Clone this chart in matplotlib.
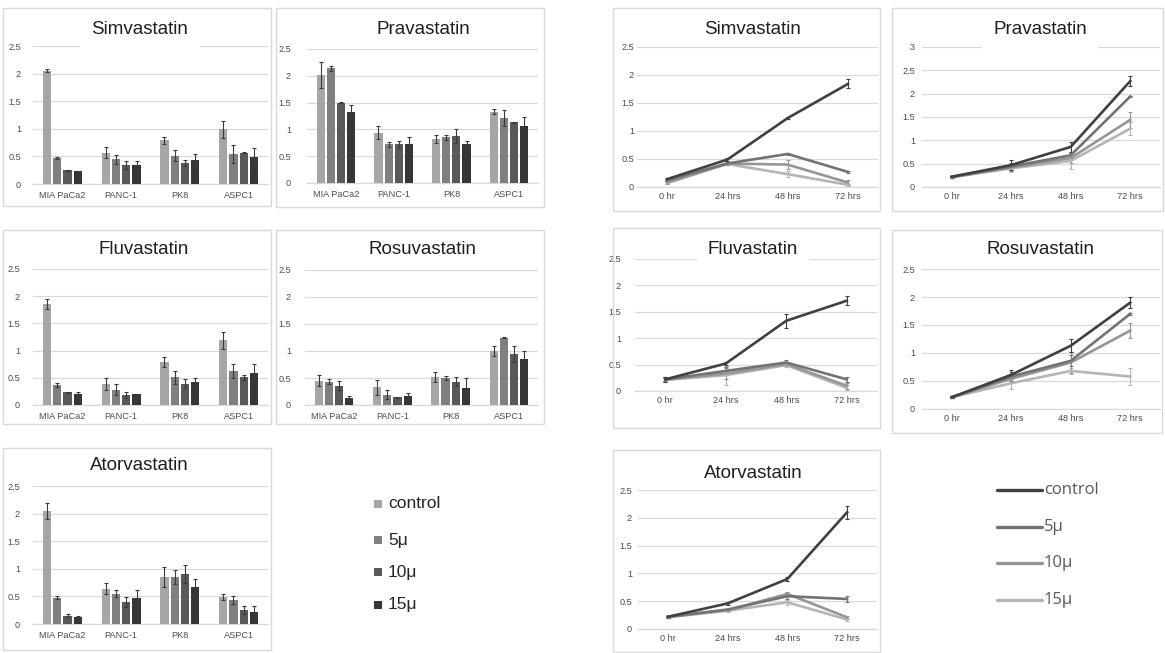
import matplotlib
matplotlib.use("Agg")
import matplotlib.pyplot as plt
from matplotlib import font_manager
from matplotlib.patches import Rectangle
from matplotlib.lines import Line2D
import numpy as np

# ---------------------------------------------------------------- data
cell_lines = ["MIA PaCa2", "PANC-1", "PK8", "ASPC1"]
timepoints = ["0 hr", "24 hrs", "48 hrs", "72 hrs"]
doses = ["control", "5μ", "10μ", "15μ"]
drugs = ["Simvastatin", "Pravastatin", "Fluvastatin", "Rosuvastatin", "Atorvastatin"]

# Bar charts: one row per dose, one column per cell line
simva_bar = [[2.05, 0.57, 0.79, 0.99], [0.47, 0.45, 0.51, 0.54],
             [0.25, 0.34, 0.38, 0.57], [0.23, 0.34, 0.43, 0.49]]
simva_bar_err = [[0.03, 0.10, 0.07, 0.15], [0.02, 0.08, 0.10, 0.16],
                 [0.01, 0.07, 0.05, 0.01], [0.01, 0.08, 0.12, 0.16]]
prava_bar = [[2.01, 0.94, 0.82, 1.33], [2.14, 0.72, 0.85, 1.22],
             [1.50, 0.72, 0.88, 1.13], [1.33, 0.73, 0.73, 1.07]]
prava_bar_err = [[0.24, 0.12, 0.08, 0.05], [0.05, 0.05, 0.05, 0.15],
                 [0.01, 0.07, 0.13, 0.01], [0.12, 0.12, 0.05, 0.17]]
fluva_bar = [[1.86, 0.38, 0.79, 1.19], [0.37, 0.28, 0.51, 0.62],
             [0.23, 0.18, 0.39, 0.51], [0.21, 0.20, 0.43, 0.58]]
fluva_bar_err = [[0.09, 0.11, 0.10, 0.16], [0.03, 0.10, 0.12, 0.13],
                 [0.01, 0.05, 0.08, 0.05], [0.02, 0.01, 0.06, 0.17]]
rosuva_bar = [[0.45, 0.33, 0.52, 1.00], [0.43, 0.19, 0.50, 1.25],
              [0.36, 0.14, 0.43, 0.95], [0.13, 0.16, 0.31, 0.86]]
rosuva_bar_err = [[0.10, 0.14, 0.10, 0.09], [0.05, 0.08, 0.04, 0.01],
                  [0.08, 0.01, 0.08, 0.15], [0.04, 0.06, 0.19, 0.14]]
atorva_bar = [[2.05, 0.64, 0.85, 0.49], [0.48, 0.55, 0.85, 0.43],
              [0.15, 0.40, 0.91, 0.26], [0.12, 0.48, 0.67, 0.21]]
atorva_bar_err = [[0.15, 0.10, 0.18, 0.06], [0.03, 0.06, 0.12, 0.07],
                  [0.03, 0.09, 0.16, 0.07], [0.02, 0.13, 0.15, 0.11]]

# Time courses: one row per dose, one column per time point
simva_line = [[0.14, 0.49, 1.23, 1.84], [0.12, 0.42, 0.59, 0.27],
              [0.08, 0.42, 0.40, 0.08], [0.07, 0.41, 0.23, 0.04]]
simva_line_err = [[0.02, 0.02, 0.02, 0.08], [0.02, 0.02, 0.02, 0.02],
                  [0.02, 0.02, 0.08, 0.05], [0.02, 0.02, 0.05, 0.02]]
prava_line = [[0.22, 0.47, 0.86, 2.27], [0.22, 0.44, 0.68, 1.94],
              [0.21, 0.42, 0.62, 1.44], [0.21, 0.40, 0.56, 1.25]]
prava_line_err = [[0.02, 0.10, 0.11, 0.10], [0.02, 0.08, 0.05, 0.02],
                  [0.02, 0.08, 0.10, 0.17], [0.02, 0.08, 0.17, 0.14]]
fluva_line = [[0.22, 0.52, 1.33, 1.71], [0.22, 0.38, 0.54, 0.22],
              [0.22, 0.33, 0.51, 0.10], [0.21, 0.30, 0.49, 0.06]]
fluva_line_err = [[0.05, 0.03, 0.13, 0.08], [0.05, 0.08, 0.04, 0.05],
                  [0.03, 0.10, 0.03, 0.06], [0.03, 0.18, 0.03, 0.05]]
rosuva_line = [[0.21, 0.61, 1.13, 1.90], [0.21, 0.58, 0.86, 1.70],
               [0.21, 0.54, 0.83, 1.40], [0.21, 0.46, 0.68, 0.58]]
rosuva_line_err = [[0.02, 0.08, 0.12, 0.10], [0.02, 0.08, 0.10, 0.02],
                   [0.02, 0.08, 0.18, 0.13], [0.02, 0.10, 0.06, 0.15]]
atorva_line = [[0.22, 0.46, 0.90, 2.10], [0.22, 0.35, 0.59, 0.54],
               [0.22, 0.34, 0.63, 0.21], [0.21, 0.33, 0.48, 0.17]]
atorva_line_err = [[0.02, 0.02, 0.03, 0.12], [0.02, 0.02, 0.05, 0.05],
                   [0.02, 0.02, 0.04, 0.03], [0.02, 0.02, 0.04, 0.03]]

bar_sets = [(simva_bar, simva_bar_err), (prava_bar, prava_bar_err),
            (fluva_bar, fluva_bar_err), (rosuva_bar, rosuva_bar_err),
            (atorva_bar, atorva_bar_err)]
line_sets = [(simva_line, simva_line_err), (prava_line, prava_line_err),
             (fluva_line, fluva_line_err), (rosuva_line, rosuva_line_err),
             (atorva_line, atorva_line_err)]

# ---------------------------------------------------------------- style
W, H, DPI = 1165, 653, 100
bar_colors = ["#a6a6a6", "#7f7f7f", "#595959", "#363636"]
line_colors = ["#404040", "#737373", "#969696", "#b5b5b5"]
grid_color = "#d9d9d9"
tick_color = "#4d4d4d"


def pick_font(*names):
    for n in names:
        try:
            font_manager.findfont(font_manager.FontProperties(family=n),
                                  fallback_to_default=False)
            return n
        except ValueError:
            continue
    return "DejaVu Sans"


narrow = pick_font("Liberation Sans Narrow")
tick_font = narrow if narrow != "DejaVu Sans" else "Liberation Sans"
tick_size = 7.6 if narrow != "DejaVu Sans" else 6.6
title_font = "Liberation Sans"
legend_font = "Open Sans"

# panel geometry in pixels (x0, y0, x1, y1), origin at top-left
bar_frames = [(3, 8, 271, 206), (276, 8, 544, 207), (3, 230, 271, 424),
              (276, 230, 544, 424), (3, 448, 271, 650)]
bar_plots = [(33, 46, 268, 184), (307, 49, 538, 183), (33, 269, 268, 405),
             (305, 270, 538, 405), (33, 486, 268, 624)]
bar_titles = [(140, 30), (423, 30), (144, 250), (423, 249), (139, 466)]
bar_mask = [True, False, False, False, False]
bar_ypad = [12, 16, 13, 14, 13]

line_frames = [(613, 8, 880, 211), (892, 8, 1163, 211), (613, 228, 880, 428),
               (892, 230, 1162, 433), (613, 450, 880, 652)]
line_plots = [(637, 47, 878, 187), (922, 47, 1160, 187), (635, 259, 877, 391),
              (922, 269, 1160, 409), (638, 490, 877, 629)]
line_titles = [(753, 30), (1040, 30), (753, 250), (1040, 249), (753, 474)]
line_mask = [False, True, True, False, False]
line_ypad = [3, 7, 14, 7, 6]
line_ymax = [2.5, 3.0, 2.5, 2.5, 2.5]

fig = plt.figure(figsize=(W / DPI, H / DPI), dpi=DPI)
fig.patch.set_facecolor("white")

PX = 72 / DPI  # points per pixel


def fig_rect(box):
    x0, y0, x1, y1 = box
    return [x0 / W, 1 - y1 / H, (x1 - x0) / W, (y1 - y0) / H]


def add_frame(box):
    l, b, w, h = fig_rect(box)
    fig.patches.append(Rectangle((l, b), w, h, transform=fig.transFigure,
                                 facecolor="none", edgecolor=grid_color,
                                 lw=1.0, zorder=5))


def add_title(xy, text, mask):
    kw = {}
    if mask:
        kw["bbox"] = dict(facecolor="white", edgecolor="none",
                          boxstyle="square,pad=0.6")
    fig.text(xy[0] / W, 1 - xy[1] / H, text, ha="center", va="center",
             fontsize=13.5, family=title_font, color="#1f1f1f", **kw)


def style_axes(ax, ymax, ypad, xpad):
    ax.set_facecolor("none")
    ax.set_xlim(-0.5, 3.5)
    ax.set_ylim(0, ymax)
    ticks = np.arange(0, ymax + 0.01, 0.5)
    ax.set_yticks(ticks)
    ax.set_yticklabels([f"{t:g}" for t in ticks])
    ax.yaxis.grid(True, color=grid_color, lw=0.9)
    ax.set_axisbelow(True)
    for side in ("top", "right", "left"):
        ax.spines[side].set_visible(False)
    ax.spines["bottom"].set_color(grid_color)
    ax.spines["bottom"].set_linewidth(0.9)
    ax.tick_params(axis="both", length=0, labelsize=tick_size,
                   labelcolor=tick_color)
    ax.tick_params(axis="y", pad=ypad * PX)
    ax.tick_params(axis="x", pad=xpad * PX)
    for lab in ax.get_xticklabels() + ax.get_yticklabels():
        lab.set_family(tick_font)


# ---------------------------------------------------------------- bar charts
x = np.arange(len(cell_lines))
step, width = 0.175, 0.14
for k, drug in enumerate(drugs):
    add_frame(bar_frames[k])
    ax = fig.add_axes(fig_rect(bar_plots[k]))
    vals, errs = bar_sets[k]
    for i, dose in enumerate(doses):
        ax.bar(x + (i - 1.5) * step, vals[i], width, color=bar_colors[i],
               yerr=errs[i], zorder=3,
               error_kw=dict(ecolor="#3a3a3a", elinewidth=0.8,
                             capsize=1.6, capthick=0.8))
    ax.set_xticks(x)
    ax.set_xticklabels(cell_lines)
    style_axes(ax, 2.5, bar_ypad[k], 7)
    add_title(bar_titles[k], drug, bar_mask[k])

# ---------------------------------------------------------------- time courses
t = np.arange(len(timepoints))
for k, drug in enumerate(drugs):
    add_frame(line_frames[k])
    ax = fig.add_axes(fig_rect(line_plots[k]))
    vals, errs = line_sets[k]
    for i in reversed(range(len(doses))):
        ax.errorbar(t, vals[i], yerr=errs[i], color=line_colors[i], lw=1.9,
                    elinewidth=0.8, capsize=1.5, capthick=0.8, zorder=3)
    ax.set_xticks(t)
    ax.set_xticklabels(timepoints)
    style_axes(ax, line_ymax[k], line_ypad[k], 5)
    add_title(line_titles[k], drug, line_mask[k])

# ---------------------------------------------------------------- legends
bar_leg_rows = [504, 540, 572, 605]
for i, dose in enumerate(doses):
    y = bar_leg_rows[i]
    fig.patches.append(Rectangle((374 / W, 1 - (y + 4) / H), 8 / W, 8 / H,
                                 transform=fig.transFigure,
                                 facecolor=bar_colors[i], edgecolor="none"))
    fig.text(388 / W, 1 - y / H, dose, ha="left", va="center",
             fontsize=12.5, family=title_font, color="#262626")

line_leg_rows = [490, 527, 563, 600]
for i, dose in enumerate(doses):
    y = 1 - line_leg_rows[i] / H
    fig.lines.append(Line2D([997 / W, 1042 / W], [y, y],
                            transform=fig.transFigure,
                            color=line_colors[i], lw=2.4,
                            solid_capstyle="round"))
    fig.text(1044 / W, y, dose, ha="left", va="center",
             fontsize=12, family=legend_font, color="#595959")

fig.savefig("out.png", dpi=DPI, facecolor="white")
